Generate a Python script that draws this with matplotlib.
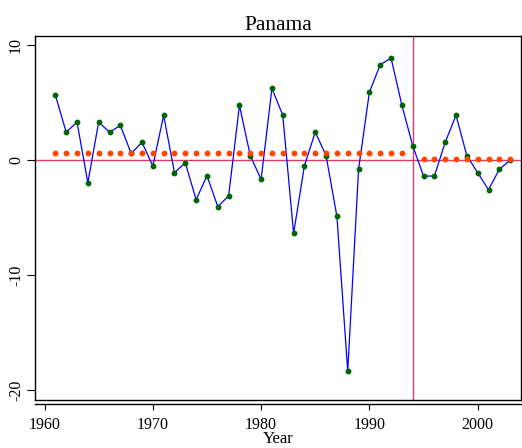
"""
    Panama series with period means
"""

import matplotlib
matplotlib.use("Agg")
import matplotlib.pyplot as plt
import numpy as np

years = np.arange(1961, 2004)
values = [5.68, 2.44, 3.33, -1.95, 3.33, 2.44, 3.04, 0.6, 1.57, -0.5,
          3.92, -1.08, -0.2, -3.43, -1.34, -4.03, -3.1, 4.79, 0.4, -1.66,
          6.26, 3.92, -6.36, -0.47, 2.46, 0.4, -4.88, -18.37, -0.78, 5.94,
          8.32, 8.9, 4.79, 1.27, -1.37, -1.37, 1.57, 3.92, 0.4, -1.08,
          -2.56, -0.78, 0.02]

mean_years_1 = np.arange(1961, 1994)
mean_value_1 = 0.66
mean_years_2 = np.arange(1995, 2004)
mean_value_2 = 0.11

break_year = 1994

xticks = [1960, 1970, 1980, 1990, 2000]
yticks = [-20, -10, 0, 10]


def main():
    plt.rcParams['font.family'] = ['Liberation Serif', 'DejaVu Serif']
    fig = plt.figure(figsize=(5.22, 4.48), dpi=100)
    ax = fig.add_axes([35 / 522, 1 - 400 / 448, 486 / 522, 364 / 448])

    red = "#dc3c64"
    ax.axhline(0, color=red, lw=1.0, zorder=1)
    ax.axvline(break_year, color=red, lw=1.0, zorder=1)

    ax.plot(years, values, color="#0000ff", lw=0.9, zorder=2)
    ax.plot(years, values, "o", color="#006400", ms=4.2, mec="none", zorder=3)
    ax.plot(mean_years_1, [mean_value_1] * len(mean_years_1), "o",
            color="#ff4500", ms=4.2, mec="none", zorder=4)
    ax.plot(mean_years_2, [mean_value_2] * len(mean_years_2), "o",
            color="#ff4500", ms=4.2, mec="none", zorder=4)

    ax.set_xlim(1959.12, 2004.0)
    ax.set_ylim(-20.86, 10.82)

    ax.set_xticks(xticks)
    ax.set_xticklabels([str(t) for t in xticks])
    ax.set_yticks(yticks)
    ax.set_yticklabels([str(t) for t in yticks], rotation=90, va="center")

    ax.spines['bottom'].set_position(('outward', 3))
    for s in ax.spines.values():
        s.set_linewidth(1.0)
    # box bottom edge (bottom spine is pushed outward like the original)
    ax.plot([0, 1], [0, 0], color="black", lw=1.0, transform=ax.transAxes,
            clip_on=False, zorder=5)

    ax.tick_params(axis='x', length=4, width=0.8, pad=5, labelsize=11.5)
    ax.tick_params(axis='y', length=6, width=0.8, pad=2, labelsize=11.5)

    ax.set_title("Panama", fontsize=15.5, pad=4)
    ax.set_xlabel("Year", fontsize=12, labelpad=-1)

    fig.savefig("out.png", dpi=100)


if __name__ == "__main__":
    main()
